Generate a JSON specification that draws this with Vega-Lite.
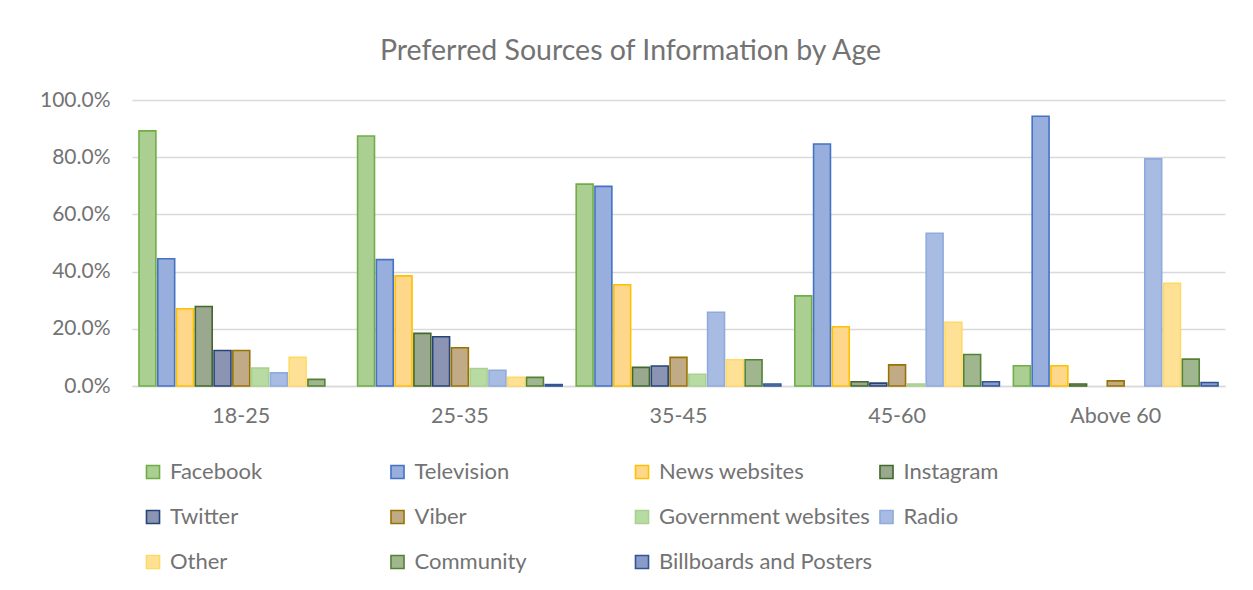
{
  "$schema": "https://vega.github.io/schema/vega-lite/v6.json",
  "autosize": {"type": "none"},
  "padding": {"left": 132, "top": 100, "right": 28, "bottom": 204},
  "width": 1093,
  "height": 286,
  "background": "white",
  "title": {
    "text": "Preferred Sources of Information by Age",
    "fontSize": 28.5,
    "font": "Lato",
    "fontWeight": "normal",
    "color": "#737373",
    "anchor": "middle",
    "dx": -48,
    "offset": 24
  },
  "data": {
    "values": [
      {"Age": "18-25", "Source": "Facebook", "Share": 0.892},
      {"Age": "18-25", "Source": "Television", "Share": 0.445},
      {"Age": "18-25", "Source": "News websites", "Share": 0.270},
      {"Age": "18-25", "Source": "Instagram", "Share": 0.278},
      {"Age": "18-25", "Source": "Twitter", "Share": 0.124},
      {"Age": "18-25", "Source": "Viber", "Share": 0.124},
      {"Age": "18-25", "Source": "Government websites", "Share": 0.063},
      {"Age": "18-25", "Source": "Radio", "Share": 0.046},
      {"Age": "18-25", "Source": "Other", "Share": 0.100},
      {"Age": "18-25", "Source": "Community", "Share": 0.023},
      {"Age": "25-35", "Source": "Facebook", "Share": 0.874},
      {"Age": "25-35", "Source": "Television", "Share": 0.442},
      {"Age": "25-35", "Source": "News websites", "Share": 0.385},
      {"Age": "25-35", "Source": "Instagram", "Share": 0.184},
      {"Age": "25-35", "Source": "Twitter", "Share": 0.172},
      {"Age": "25-35", "Source": "Viber", "Share": 0.134},
      {"Age": "25-35", "Source": "Government websites", "Share": 0.061},
      {"Age": "25-35", "Source": "Radio", "Share": 0.055},
      {"Age": "25-35", "Source": "Other", "Share": 0.030},
      {"Age": "25-35", "Source": "Community", "Share": 0.030},
      {"Age": "25-35", "Source": "Billboards and Posters", "Share": 0.005},
      {"Age": "35-45", "Source": "Facebook", "Share": 0.706},
      {"Age": "35-45", "Source": "Television", "Share": 0.698},
      {"Age": "35-45", "Source": "News websites", "Share": 0.354},
      {"Age": "35-45", "Source": "Instagram", "Share": 0.065},
      {"Age": "35-45", "Source": "Twitter", "Share": 0.070},
      {"Age": "35-45", "Source": "Viber", "Share": 0.100},
      {"Age": "35-45", "Source": "Government websites", "Share": 0.041},
      {"Age": "35-45", "Source": "Radio", "Share": 0.258},
      {"Age": "35-45", "Source": "Other", "Share": 0.092},
      {"Age": "35-45", "Source": "Community", "Share": 0.092},
      {"Age": "35-45", "Source": "Billboards and Posters", "Share": 0.007},
      {"Age": "45-60", "Source": "Facebook", "Share": 0.315},
      {"Age": "45-60", "Source": "Television", "Share": 0.846},
      {"Age": "45-60", "Source": "News websites", "Share": 0.207},
      {"Age": "45-60", "Source": "Instagram", "Share": 0.015},
      {"Age": "45-60", "Source": "Twitter", "Share": 0.010},
      {"Age": "45-60", "Source": "Viber", "Share": 0.074},
      {"Age": "45-60", "Source": "Government websites", "Share": 0.007},
      {"Age": "45-60", "Source": "Radio", "Share": 0.534},
      {"Age": "45-60", "Source": "Other", "Share": 0.223},
      {"Age": "45-60", "Source": "Community", "Share": 0.110},
      {"Age": "45-60", "Source": "Billboards and Posters", "Share": 0.015},
      {"Age": "Above 60", "Source": "Facebook", "Share": 0.071},
      {"Age": "Above 60", "Source": "Television", "Share": 0.943},
      {"Age": "Above 60", "Source": "News websites", "Share": 0.071},
      {"Age": "Above 60", "Source": "Instagram", "Share": 0.007},
      {"Age": "Above 60", "Source": "Viber", "Share": 0.018},
      {"Age": "Above 60", "Source": "Radio", "Share": 0.794},
      {"Age": "Above 60", "Source": "Other", "Share": 0.359},
      {"Age": "Above 60", "Source": "Community", "Share": 0.094},
      {"Age": "Above 60", "Source": "Billboards and Posters", "Share": 0.012}
    ]
  },
  "mark": {"type": "bar", "strokeWidth": 1.6},
  "encoding": {
    "x": {
      "field": "Age",
      "type": "nominal",
      "sort": ["18-25", "25-35", "35-45", "45-60", "Above 60"],
      "scale": {"paddingInner": 0.064, "paddingOuter": 0.032},
      "axis": {
        "title": null,
        "labelAngle": 0,
        "labelFont": "Lato",
        "labelFontSize": 21.5,
        "labelColor": "#737373",
        "labelPadding": 19,
        "ticks": false,
        "domainColor": "#d9d9d9",
        "domainWidth": 1.5
      }
    },
    "xOffset": {
      "field": "Source",
      "type": "nominal",
      "scale": {
        "domain": ["Facebook", "Television", "News websites", "Instagram", "Twitter", "Viber", "Government websites", "Radio", "Other", "Community", "Billboards and Posters"],
        "paddingInner": 0.1,
        "paddingOuter": 0
      }
    },
    "y": {
      "field": "Share",
      "type": "quantitative",
      "scale": {"domain": [0, 1]},
      "axis": {
        "title": null,
        "format": ".1%",
        "values": [0, 0.2, 0.4, 0.6, 0.8, 1.0],
        "labelFont": "Lato",
        "labelFontSize": 21,
        "labelColor": "#737373",
        "labelPadding": 22,
        "ticks": false,
        "domain": false,
        "gridColor": "#d9d9d9",
        "gridWidth": 1.5
      }
    },
    "fill": {
      "field": "Source",
      "type": "nominal",
      "scale": {
        "domain": ["Facebook", "Television", "News websites", "Instagram", "Twitter", "Viber", "Government websites", "Radio", "Other", "Community", "Billboards and Posters"],
        "range": ["#abcf93", "#98aedd", "#ffd78a", "#99a88e", "#8b94b3", "#c1ab87", "#b8daa3", "#a8bbe3", "#ffe196", "#9fb68f", "#8a9bc8"]
      },
      "legend": {
        "title": null,
        "orient": "none",
        "legendX": 10,
        "legendY": 361,
        "direction": "horizontal",
        "columns": 4,
        "gridAlign": "all",
        "columnPadding": 2.5,
        "rowPadding": 23,
        "symbolType": "square",
        "symbolSize": 170,
        "symbolStrokeWidth": 1.6,
        "labelFont": "Lato",
        "labelFontSize": 22,
        "labelColor": "#737373",
        "labelOffset": 6,
        "labelLimit": 300
      }
    },
    "stroke": {
      "field": "Source",
      "type": "nominal",
      "scale": {
        "domain": ["Facebook", "Television", "News websites", "Instagram", "Twitter", "Viber", "Government websites", "Radio", "Other", "Community", "Billboards and Posters"],
        "range": ["#70ad47", "#4472c4", "#ffc000", "#43682b", "#264478", "#997300", "#a9d18e", "#8faadc", "#ffd966", "#548235", "#2f5597"]
      },
      "legend": null
    }
  },
  "config": {"view": {"stroke": null}}
}
